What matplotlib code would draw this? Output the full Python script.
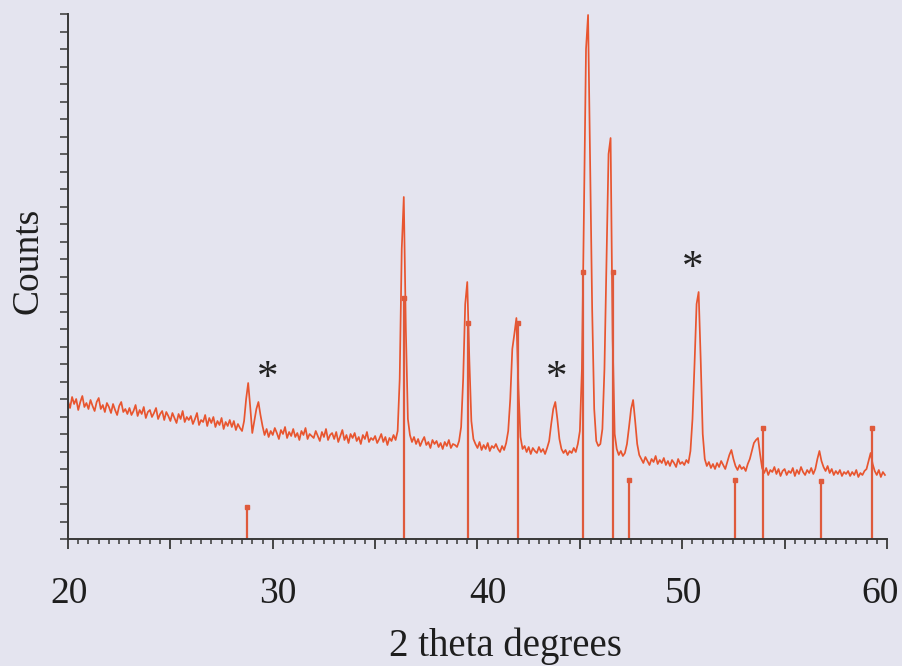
import numpy as np
import matplotlib.pyplot as plt
from matplotlib.ticker import MultipleLocator, NullFormatter
from matplotlib.transforms import blended_transform_factory

# XRD scan, 20-59.9 deg in 0.1 deg steps (arbitrary count units)
two_theta_start = 20.0
two_theta_step = 0.1
counts = [
    138, 131, 142, 135, 140, 129, 137, 143, 132, 136,   # 20
    130, 139, 133, 128, 137, 141, 130, 134, 127, 136,   # 21
    132, 126, 135, 129, 124, 133, 137, 127, 130, 125,   # 22
    131, 124, 128, 134, 123, 129, 125, 132, 121, 127,   # 23
    129, 122, 126, 131, 120, 125, 128, 119, 127, 123,   # 24
    118, 126, 121, 116, 125, 120, 128, 117, 122, 119,   # 25
    123, 115, 120, 126, 114, 119, 117, 124, 113, 121,   # 26
    116, 122, 112, 118, 114, 121, 110, 117, 113, 119,   # 27
    112, 118, 109, 115, 111, 108, 118, 140, 156, 132,   # 28
    106, 118, 130, 137, 124, 113, 104, 110, 102, 108,   # 29
    104, 111, 106, 100, 109, 105, 112, 101, 107, 103,   # 30
    110, 102, 106, 99, 108, 104, 111, 100, 105, 103,    # 31
    101, 108, 103, 98, 107, 102, 110, 99, 104, 106,     # 32
    100, 107, 97, 103, 109, 99, 104, 96, 105, 101,      # 33
    106, 98, 102, 95, 104, 100, 107, 97, 101, 99,       # 34
    103, 96, 100, 105, 97, 102, 94, 101, 98, 104,       # 35
    99, 108, 160, 290, 342, 210, 120, 104, 97, 102,     # 36
    95, 100, 93, 98, 102, 94, 97, 91, 99, 95,           # 37
    98, 92, 96, 90, 97, 93, 99, 91, 95, 94,             # 38
    92, 98, 112, 160, 235, 257, 180, 118, 100, 95,      # 39
    91, 97, 89, 94, 90, 96, 88, 93, 91, 95,             # 40
    90, 87, 93, 89, 96, 108, 140, 190, 205, 221,        # 41
    150, 102, 90, 93, 87, 92, 85, 91, 88, 86,           # 42
    92, 87, 90, 85, 91, 98, 115, 130, 137, 120,         # 43
    100, 90, 86, 89, 84, 88, 86, 91, 87, 95,            # 44
    108, 170, 330, 490, 524, 380, 230, 130, 98, 93,     # 45
    95, 110, 170, 280, 385, 401, 200, 105, 90, 84,      # 46
    88, 83, 86, 95, 112, 130, 139, 118, 95, 84,         # 47
    80, 76, 82, 78, 74, 80, 77, 83, 75, 79,             # 48
    76, 81, 74, 78, 73, 79, 76, 72, 80, 75,             # 49
    77, 74, 79, 76, 88, 120, 175, 235, 247, 180,        # 50
    105, 80, 73, 77, 71, 75, 70, 76, 72, 78,            # 51
    74, 70, 77, 84, 89, 80, 73, 69, 74, 70,             # 52
    72, 68, 75, 80, 88, 96, 99, 101, 85, 71,            # 53
    66, 71, 64, 69, 67, 72, 65, 70, 63, 68,             # 54
    70, 64, 68, 66, 71, 63, 69, 65, 72, 67,             # 55
    64, 69, 66, 71, 65, 70, 80, 88, 78, 72,             # 56
    68, 73, 66, 70, 64, 68, 65, 69, 63, 67,             # 57
    65, 68, 63, 67, 64, 69, 62, 66, 64, 68,             # 58
    70, 78, 86, 75, 68, 64, 69, 62, 67, 64,             # 59
]
two_theta = two_theta_start + two_theta_step * np.arange(len(counts))

# reference pattern sticks
ref_pos = [28.75, 36.4, 39.55, 41.98, 45.15, 46.62, 47.4, 52.6, 53.95, 56.8, 59.27]
ref_int = [32, 241, 216, 216, 267, 267, 59, 59, 111, 58, 111]

# impurity peaks marked with *
star_pos = [29.77, 43.88, 50.53]
star_y = [160, 160, 270]

# axis numbers were set by hand, a little off the ticks
xlabels = ['20', '30', '40', '50', '60']
xlabel_pos = [20.05, 30.26, 40.5, 50.04, 59.66]

trace_col = '#e8552f'
stick_col = '#df5a3c'
axis_col = '#383838'
txt_col = '#1e1e1e'
bg = '#e4e4ef'

plt.rcParams['font.family'] = ['Liberation Serif', 'DejaVu Serif']

fig = plt.figure(figsize=(9.03, 6.66), dpi=100, facecolor=bg)
ax = fig.add_axes([68/903, 127/666, 819/903, 525/666])
ax.set_facecolor(bg)

ax.plot(two_theta, counts, color=trace_col, lw=1.25)
ax.vlines(ref_pos, 0, ref_int, color=stick_col, lw=1.6)
ax.plot(ref_pos, ref_int, 's', color=stick_col, ms=3.5)

for x, y in zip(star_pos, star_y):
    ax.text(x, y, '*', fontsize=31, ha='center', va='center', color='#222222')

ax.set_xlim(20, 60)
ax.set_ylim(0, 525)

for s in ['top', 'right']:
    ax.spines[s].set_visible(False)
for s in ['left', 'bottom']:
    ax.spines[s].set_color(axis_col)
    ax.spines[s].set_linewidth(1.4)

ax.xaxis.set_major_locator(MultipleLocator(5))
ax.xaxis.set_minor_locator(MultipleLocator(0.5))
ax.xaxis.set_major_formatter(NullFormatter())
ax.yaxis.set_major_locator(MultipleLocator(17.5))
ax.yaxis.set_major_formatter(NullFormatter())

ax.tick_params(axis='x', which='major', direction='out', length=7, width=1.3, color=axis_col)
ax.tick_params(axis='x', which='minor', direction='out', length=3.5, width=1.1, color=axis_col)
ax.tick_params(axis='y', direction='out', length=6, width=1.1, color=axis_col)

trans = blended_transform_factory(ax.transData, ax.transAxes)
for lab, x in zip(xlabels, xlabel_pos):
    ax.text(x, -0.105, lab, transform=trans, fontsize=27, ha='center', va='center',
            color=txt_col)

ax.set_xlabel('2 theta degrees', fontsize=28, color=txt_col)
ax.xaxis.set_label_coords(0.534, -0.168)
ax.set_ylabel('Counts', fontsize=27, color=txt_col)
ax.yaxis.set_label_coords(-0.028, 0.53)

fig.savefig('out.png', dpi=100, facecolor=bg)
